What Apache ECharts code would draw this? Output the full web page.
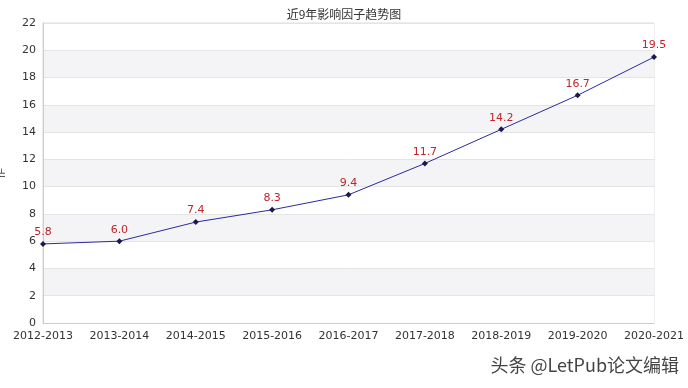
<!DOCTYPE html>
<html><head><meta charset="utf-8">
<script src="https://cdn.jsdelivr.net/npm/echarts@6/dist/echarts.min.js"></script>
<style>html,body{margin:0;padding:0;background:#fff}#c{width:688px;height:388px}</style>
</head><body><div id="c"></div>
<script>
var categories = ['2012-2013','2013-2014','2014-2015','2015-2016','2016-2017','2017-2018','2018-2019','2019-2020','2020-2021'];
var values = [5.8, 6.0, 7.4, 8.3, 9.4, 11.7, 14.2, 16.7, 19.5];
var labelTexts = ['5.8','6.0','7.4','8.3','9.4','11.7','14.2','16.7','19.5'];
var chart = echarts.init(document.getElementById('c'));
chart.setOption({
  animation: false,
  backgroundColor: '#fff',
  title: { text: '近9年影响因子趋势图', left: 'center', top: 3, textStyle: { fontSize: 12, fontWeight: 'normal', color: '#333', fontFamily: 'Noto Sans CJK SC' } },
  grid: { left: 43, right: 34, top: 23, bottom: 65, show: true, borderColor: '#ddd', borderWidth: 1, containLabel: false, outerBoundsMode: 'none' },
  xAxis: {
    type: 'category', data: categories, boundaryGap: false,
    axisLine: { lineStyle: { color: '#ccc' } },
    axisTick: { show: false },
    axisLabel: { color: '#333', fontSize: 11, margin: 8, interval: 0, hideOverlap: false, fontFamily: 'DejaVu Sans' },
    splitLine: { show: false }
  },
  yAxis: {
    type: 'value', min: 0, max: 22, interval: 2,
    name: 'IF', nameLocation: 'middle', nameGap: 36, nameRotate: 90,
    nameTextStyle: { color: '#555', fontSize: 11 },
    axisLine: { show: true, lineStyle: { color: '#ccc' } },
    axisTick: { show: false },
    axisLabel: { color: '#333', fontSize: 11, margin: 7, fontFamily: 'DejaVu Sans' },
    splitLine: { show: true, lineStyle: { color: '#e4e4e4' } },
    splitArea: { show: true, areaStyle: { color: ['#ffffff', '#f4f4f6'] } }
  },
  series: [{
    type: 'line', data: values,
    lineStyle: { color: '#2b2b9c', width: 1 },
    itemStyle: { color: '#1a1a4a' },
    symbol: 'diamond', symbolSize: 6, showAllSymbol: true,
    label: { show: true, position: 'top', distance: 3, color: '#c0262a', fontSize: 11, fontFamily: 'DejaVu Sans',
      formatter: function (p) { return labelTexts[p.dataIndex]; } }
  }],
  graphic: [{
    type: 'text', right: 8, top: 355,
    style: { text: '头条 @LetPub论文编辑', fontSize: 18, fill: '#444', stroke: '#fff', lineWidth: 2, fontFamily: 'Noto Sans CJK SC' }
  }]
});
</script></body></html>
